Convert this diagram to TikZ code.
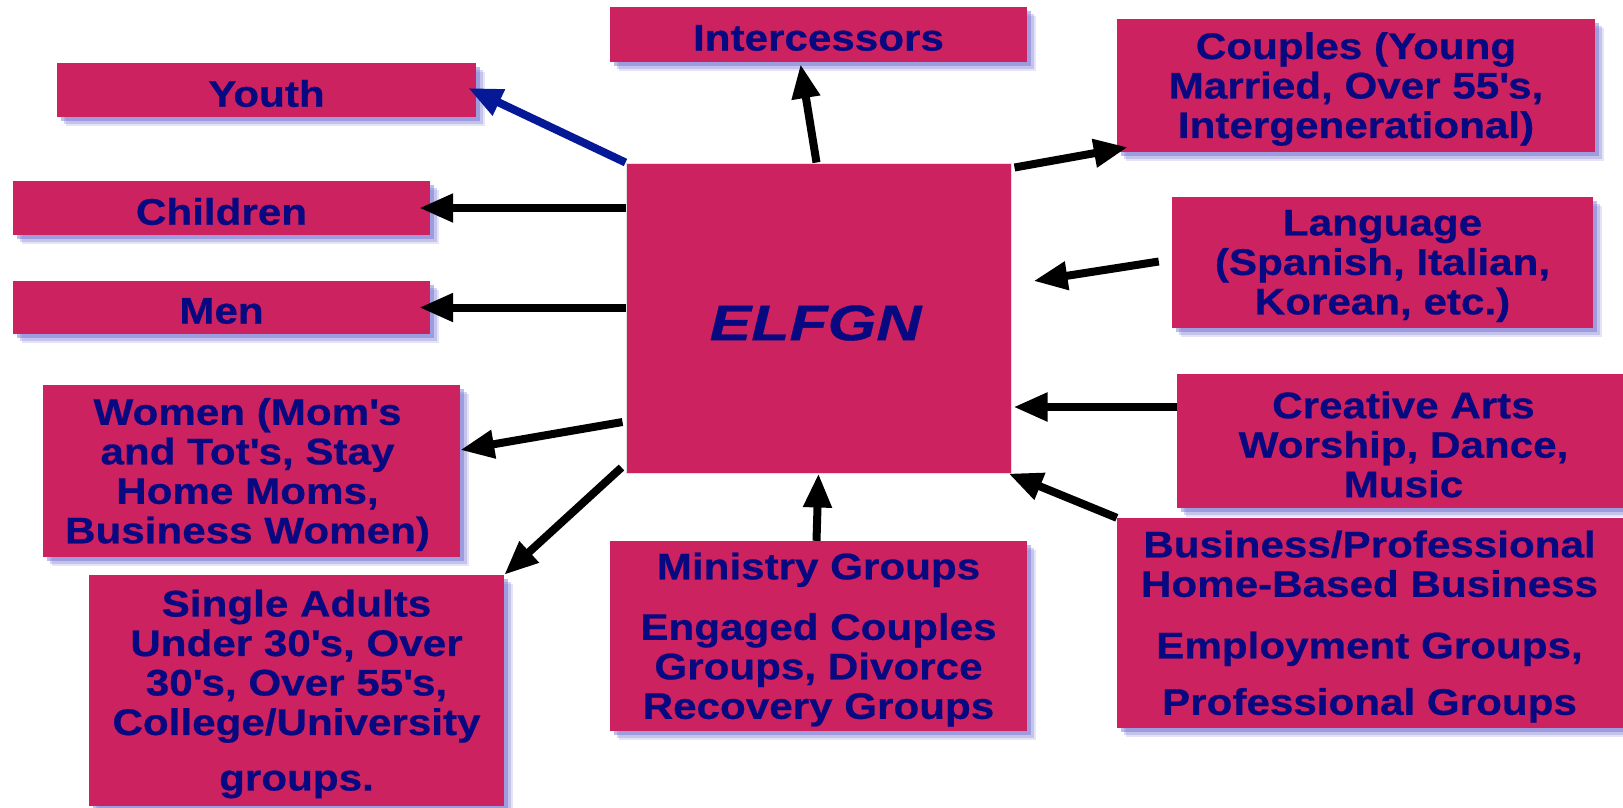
\documentclass[tikz,border=0pt]{standalone}
\usepackage{fontspec}
\setmainfont{Liberation Sans}[FakeStretch=1.14, FakeBold=0.6]
\newfontfamily\elfont{Liberation Sans}[FakeStretch=1.25, FakeBold=0.6]
\usetikzlibrary{arrows.meta,shadows,calc}
\definecolor{boxc}{RGB}{204,34,96}
\definecolor{txtc}{RGB}{8,8,128}
\definecolor{shc}{RGB}{110,110,210}
\definecolor{bluec}{RGB}{5,25,150}
\newcommand\ap{\textquotesingle}
\begin{document}
\begin{tikzpicture}[x=1pt,y=-1pt,
  box/.style={rectangle, fill=boxc, inner sep=0pt,
    drop shadow={shadow xshift=9pt, shadow yshift=-9pt, fill=shc, opacity=0.18},
    drop shadow={shadow xshift=7pt, shadow yshift=-7pt, fill=shc, opacity=0.28},
    drop shadow={shadow xshift=4pt, shadow yshift=-4pt, fill=shc, opacity=0.45}},
  txt/.style={inner sep=0pt, align=center, text=txtc, yshift=-3.5pt,
    font=\fontsize{37}{39.5}\selectfont\bfseries},
  arr/.style={line width=8pt, -{Triangle[length=34pt,width=27pt]}}]
\useasboundingbox (0,0) rectangle (1623,807);
\fill[white] (0,0) rectangle (1623,807);
\clip (0,0) rectangle (1623,807);

\node[box, minimum width=417pt, minimum height=55pt, label={[txt]center:Intercessors}] (inter) at (818.5,34.5) {};
\node[box, minimum width=419pt, minimum height=54pt, label={[txt]center:Youth}] (youth) at (266.5,90) {};
\node[box, minimum width=417pt, minimum height=54pt, label={[txt]center:Children}] (children) at (221.5,208) {};
\node[box, minimum width=417pt, minimum height=53pt, label={[txt]center:Men}] (men) at (221.5,307.5) {};
\node[box, minimum width=417pt, minimum height=172pt, label={[txt, xshift=-4pt]center:{Women (Mom\ap s\\and Tot\ap s, Stay\\Home Moms,\\Business Women)}}] (women) at (251.5,471) {};
\node[box, minimum width=415pt, minimum height=231pt, label={[txt]center:{Single Adults\\Under 30\ap s, Over\\30\ap s, Over 55\ap s,\\College/University\\[16pt]groups.}}] (single) at (296.5,690.5) {};
\node[box, minimum width=417pt, minimum height=190pt, label={[txt]center:{Ministry Groups\\[21pt]Engaged Couples\\Groups, Divorce\\Recovery Groups}}] (ministry) at (818.5,636) {};
\node[box, minimum width=478pt, minimum height=133pt, label={[txt]center:{Couples (Young\\Married, Over 55\ap s,\\Intergenerational)}}] (couples) at (1356,85.5) {};
\node[box, minimum width=421pt, minimum height=131pt, label={[txt]center:{Language\\(Spanish, Italian,\\Korean, etc.)}}] (language) at (1382.5,262.5) {};
\node[box, minimum width=453pt, minimum height=134pt, label={[txt]center:{Creative Arts\\Worship, Dance,\\Music}}] (creative) at (1403.5,441) {};
\node[box, minimum width=513pt, minimum height=210pt, label={[txt, xshift=-4pt]center:{Business/Professional\\Home-Based Business\\[22pt]Employment Groups,\\[17pt]Professional Groups}}] (business) at (1373.5,623) {};

\node[rectangle, fill=boxc, draw=black!12, line width=1pt, inner sep=0pt,
  minimum width=385pt, minimum height=310pt,
  label={[inner sep=0pt, text=txtc, yshift=-5pt, xshift=-3pt,
    font=\elfont\fontsize{50}{54}\selectfont\bfseries\itshape]center:ELFGN}] (elfgn) at (818.5,318) {};

\draw[arr, bluec] (elfgn.north west) -- ($(youth.east)+(-8,-2)$);
\draw[arr] (elfgn.west |- children) -- ($(children.east)+(-11,0)$);
\draw[arr] (elfgn.west |- men) -- ($(men.east)+(-11,0)$);
\draw[arr] ($(elfgn.west)+(-3,104)$) -- ($(women.east)+(0,-21)$);
\draw[arr] ($(elfgn.south west)+(-4,-6)$) -- (single.north east);
\draw[arr] ($(elfgn.north)+(-2,0)$) -- ($(inter.south)+(-18,2)$);
\draw[arr] ($(elfgn.north east)+(3,5)$) -- ($(couples.south west)+(11,-5)$);
\draw[arr] ($(language.west)+(-13,-1)$) -- ($(elfgn.east)+(22,-37)$);
\draw[arr] ($(creative.west)+(0,-34)$) -- ($(elfgn.east |- creative.west)+(2,-34)$);
\draw[arr] (business.north west) -- ($(elfgn.south east)+(-3,0)$);
\draw[arr] ($(ministry.north)+(-2,0)$) -- (elfgn.south);
\end{tikzpicture}
\end{document}
